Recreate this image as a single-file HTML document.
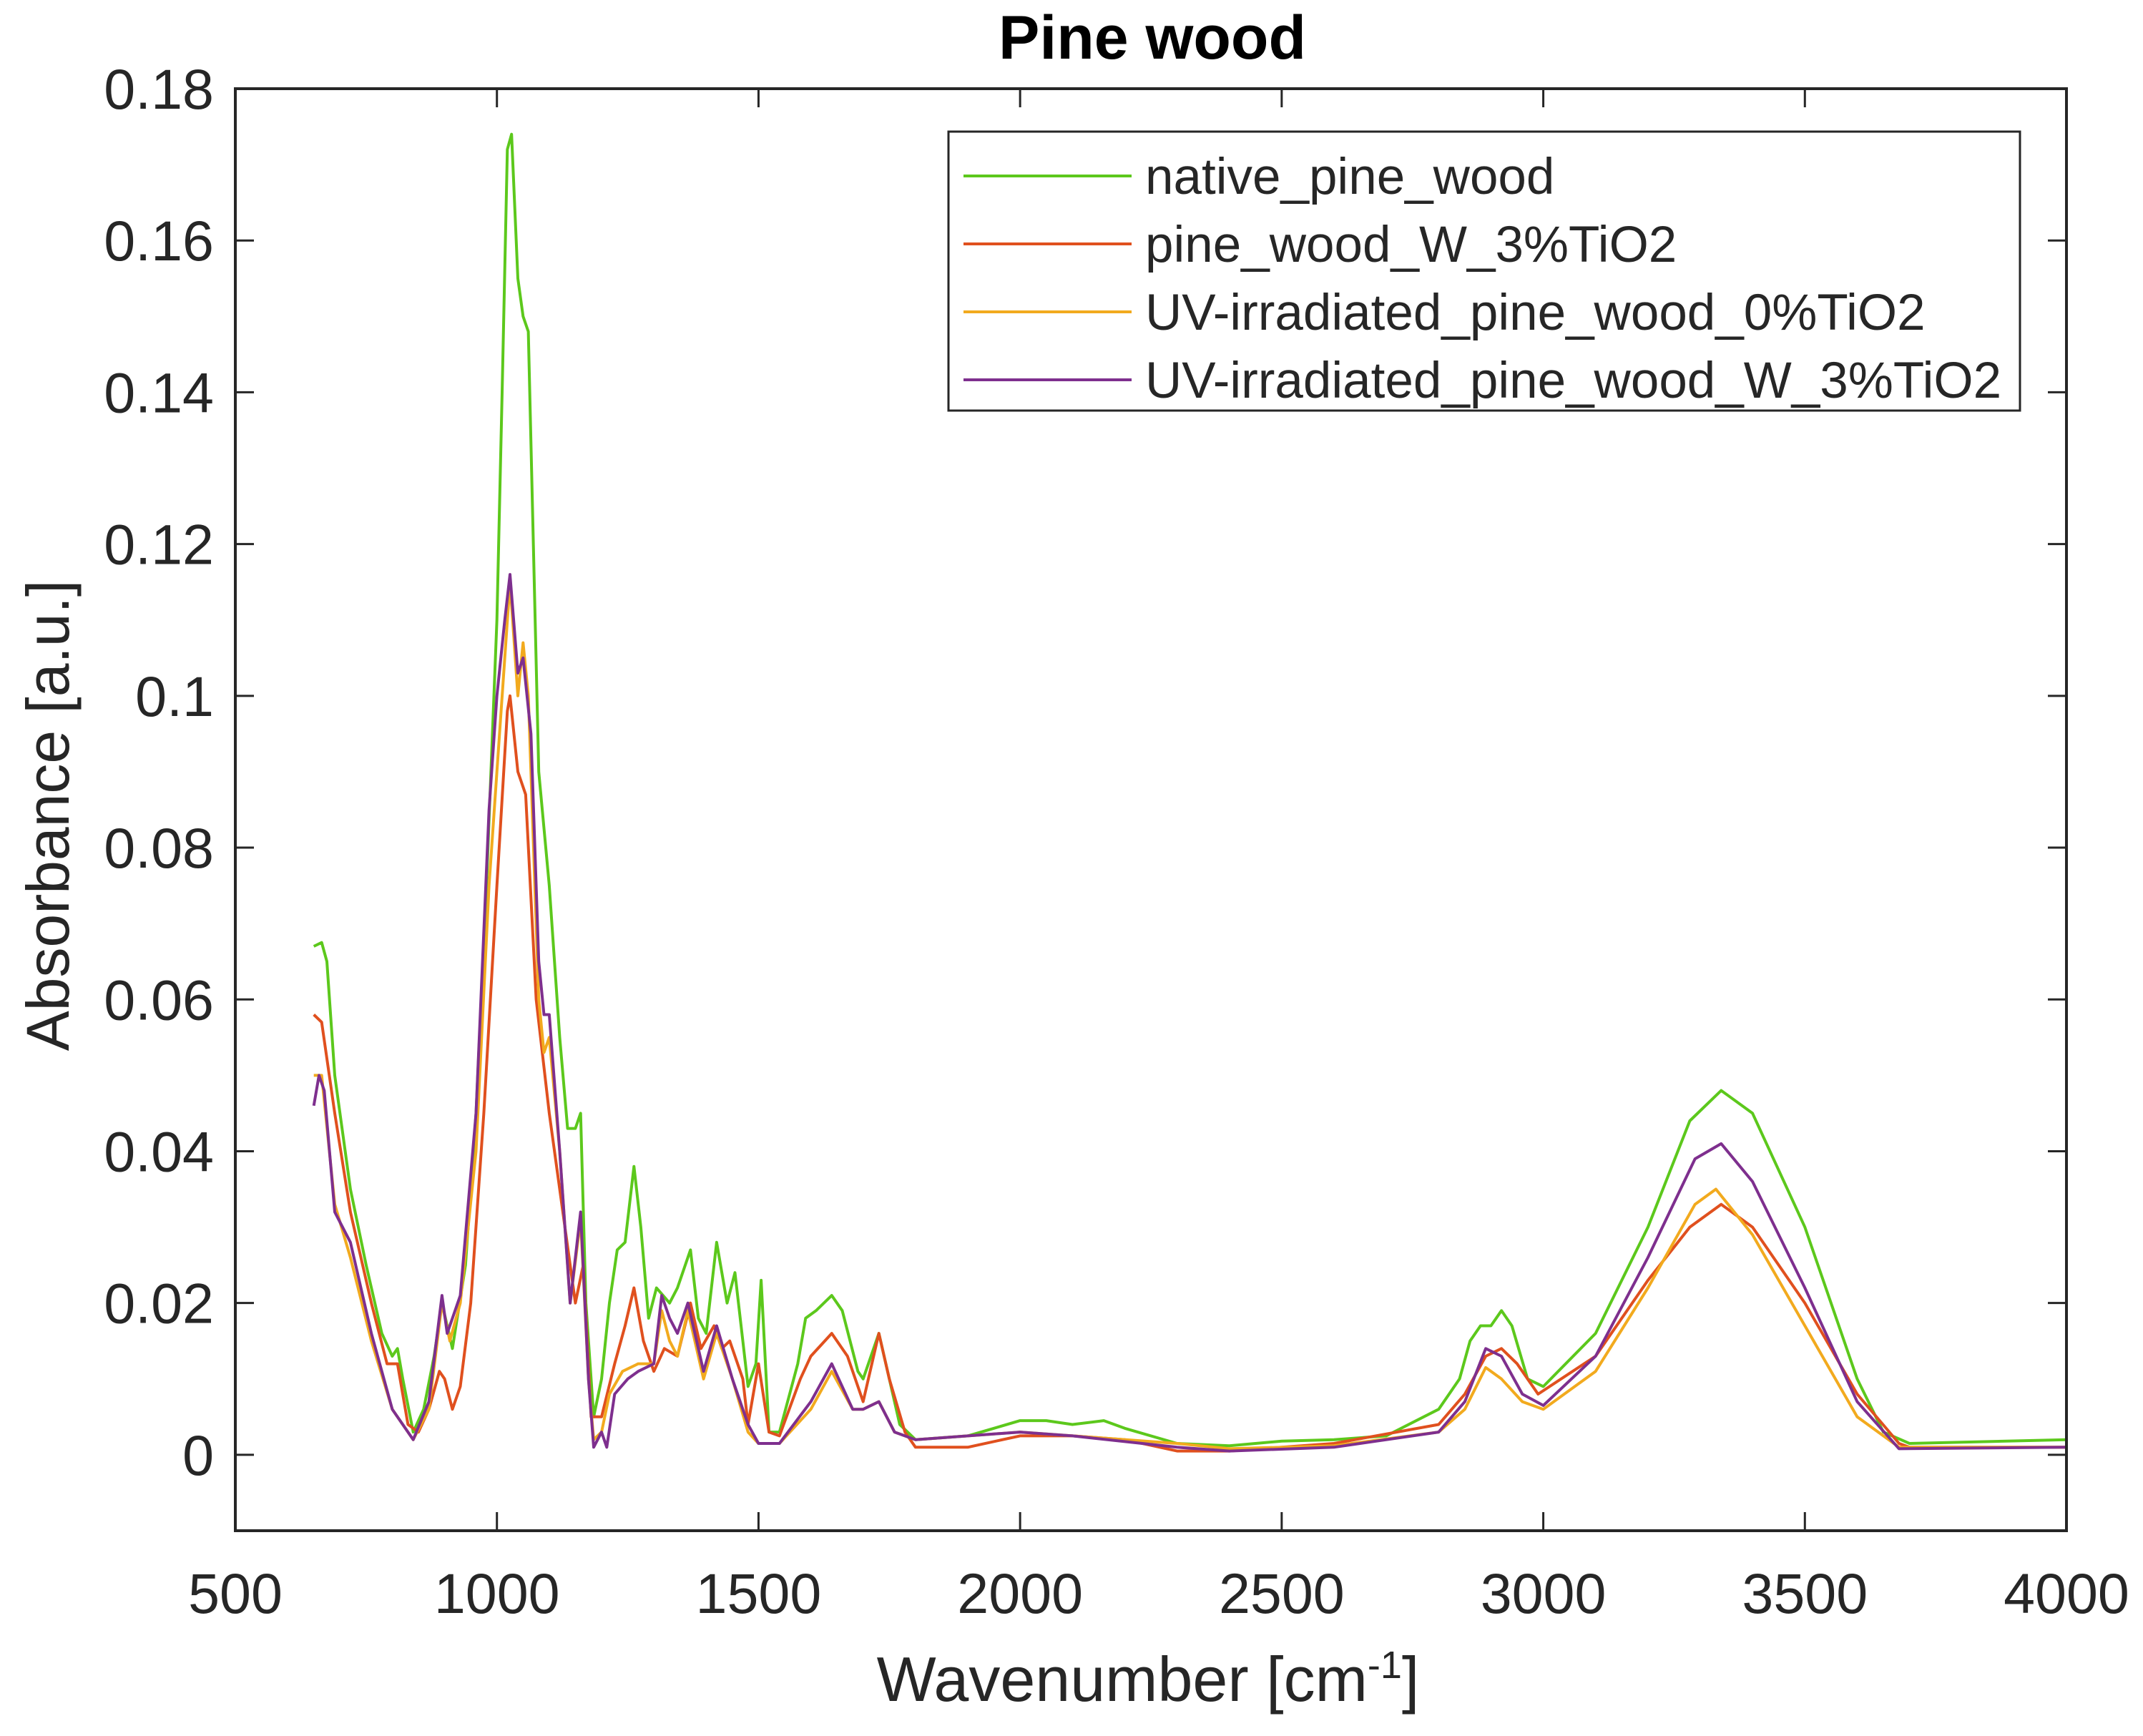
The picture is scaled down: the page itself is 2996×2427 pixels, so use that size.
<!DOCTYPE html>
<html><head><meta charset="utf-8"><style>
html,body{margin:0;padding:0;background:#fff;}
svg text{font-family:"Liberation Sans",sans-serif;fill:#262626;}
</style></head><body>
<svg id="chart" xmlns="http://www.w3.org/2000/svg" width="2996" height="2422" viewBox="0 0 2996 2422">
<rect width="2996" height="2422" fill="#fff"/>
<text x="1611" y="82" font-size="86" font-weight="bold" text-anchor="middle" style="fill:#000">Pine wood</text>
<g id="plot"></g>
<text transform="translate(96,1140) rotate(-90)" font-size="84" text-anchor="middle">Absorbance [a.u.]</text>
<text x="1605" y="2378" font-size="88" text-anchor="middle">Wavenumber [cm<tspan font-size="54" dy="-32">-1</tspan><tspan dy="32">]</tspan></text>
</svg>
<script>
const xTicks=[500,1000,1500,2000,2500,3000,3500,4000];
const yTicks=[0,0.02,0.04,0.06,0.08,0.1,0.12,0.14,0.16,0.18];
const yTickLabels=["0","0.02","0.04","0.06","0.08","0.1","0.12","0.14","0.16","0.18"];
const seriesNames=["native_pine_wood","pine_wood_W_3%TiO2","UV-irradiated_pine_wood_0%TiO2","UV-irradiated_pine_wood_W_3%TiO2"];
const seriesColors=["#5cc81c","#e0501e","#f2aa1e","#7e2f8e"];
const nativeX=[650,665,675,690,720,750,780,800,810,820,840,860,880,895,905,915,940,960,980,1000,1010,1020,1028,1040,1050,1060,1080,1100,1120,1135,1150,1160,1170,1185,1200,1215,1230,1245,1262,1275,1290,1305,1330,1345,1370,1385,1400,1420,1440,1455,1470,1480,1495,1505,1520,1540,1575,1590,1610,1640,1660,1690,1700,1730,1750,1770,1800,1900,1950,2000,2050,2100,2160,2200,2300,2400,2500,2600,2700,2800,2840,2860,2880,2900,2920,2940,2970,3000,3100,3200,3280,3340,3400,3500,3600,3650,3700,4000];
const nativeY=[0.067,0.0675,0.065,0.05,0.035,0.025,0.016,0.013,0.014,0.01,0.003,0.006,0.013,0.02,0.017,0.014,0.025,0.045,0.075,0.11,0.14,0.172,0.174,0.155,0.15,0.148,0.09,0.075,0.055,0.043,0.043,0.045,0.02,0.005,0.01,0.02,0.027,0.028,0.038,0.03,0.018,0.022,0.02,0.022,0.027,0.018,0.016,0.028,0.02,0.024,0.015,0.009,0.012,0.023,0.003,0.003,0.012,0.018,0.019,0.021,0.019,0.011,0.01,0.016,0.01,0.004,0.002,0.0025,0.0035,0.0045,0.0045,0.004,0.0045,0.0035,0.0015,0.0012,0.0018,0.002,0.0025,0.006,0.01,0.015,0.017,0.017,0.019,0.017,0.01,0.009,0.016,0.03,0.044,0.048,0.045,0.03,0.01,0.003,0.0015,0.002];
const tio2X=[650,665,690,720,760,790,810,830,850,870,890,900,915,930,950,975,1000,1020,1025,1040,1055,1075,1100,1130,1150,1165,1180,1200,1225,1245,1262,1280,1300,1320,1345,1370,1390,1415,1430,1445,1470,1480,1500,1520,1540,1580,1600,1640,1670,1700,1730,1750,1780,1800,1900,2000,2100,2200,2300,2400,2600,2800,2850,2890,2920,2950,2990,3100,3200,3280,3340,3400,3500,3600,3680,3700,4000];
const tio2Y=[0.058,0.057,0.045,0.032,0.02,0.012,0.012,0.004,0.003,0.006,0.011,0.01,0.006,0.009,0.02,0.045,0.075,0.098,0.1,0.09,0.087,0.06,0.045,0.03,0.02,0.025,0.005,0.005,0.012,0.017,0.022,0.015,0.011,0.014,0.013,0.02,0.014,0.017,0.014,0.015,0.01,0.004,0.012,0.003,0.0025,0.01,0.013,0.016,0.013,0.007,0.016,0.01,0.003,0.001,0.001,0.0025,0.0025,0.002,0.0005,0.0005,0.0015,0.004,0.008,0.013,0.014,0.012,0.008,0.013,0.023,0.03,0.033,0.03,0.02,0.008,0.0015,0.001,0.001];
const uv0X=[650,665,690,720,760,800,840,870,895,910,930,960,985,1000,1015,1025,1040,1050,1060,1080,1090,1100,1120,1140,1160,1175,1185,1200,1215,1240,1270,1300,1315,1330,1345,1365,1395,1420,1450,1480,1500,1540,1600,1640,1680,1700,1730,1760,1800,2000,2100,2300,2400,2600,2800,2850,2890,2920,2960,3000,3100,3200,3290,3330,3400,3500,3600,3680,4000];
const uv0Y=[0.05,0.05,0.033,0.026,0.015,0.006,0.002,0.006,0.02,0.015,0.02,0.04,0.075,0.09,0.105,0.115,0.1,0.107,0.1,0.06,0.053,0.055,0.04,0.02,0.031,0.01,0.002,0.003,0.008,0.011,0.012,0.012,0.019,0.015,0.013,0.019,0.01,0.016,0.01,0.003,0.0015,0.0015,0.006,0.011,0.006,0.006,0.007,0.003,0.002,0.003,0.0025,0.0015,0.0008,0.0012,0.003,0.006,0.0115,0.01,0.007,0.006,0.011,0.022,0.033,0.035,0.029,0.017,0.005,0.001,0.001];
const uv3X=[650,660,670,690,720,760,800,840,870,895,905,930,960,985,1000,1015,1025,1040,1050,1065,1080,1090,1100,1120,1140,1160,1175,1185,1200,1210,1225,1250,1270,1300,1315,1330,1345,1365,1395,1420,1450,1480,1500,1540,1600,1640,1680,1700,1730,1760,1800,2000,2100,2300,2400,2600,2800,2850,2890,2920,2960,3000,3100,3200,3290,3340,3400,3500,3600,3680,4000];
const uv3Y=[0.046,0.05,0.048,0.032,0.028,0.016,0.006,0.002,0.007,0.021,0.016,0.021,0.045,0.085,0.1,0.11,0.116,0.103,0.105,0.095,0.065,0.058,0.058,0.04,0.02,0.032,0.01,0.001,0.003,0.001,0.008,0.01,0.011,0.012,0.021,0.018,0.016,0.02,0.011,0.017,0.01,0.004,0.0015,0.0015,0.007,0.012,0.006,0.006,0.007,0.003,0.002,0.003,0.0025,0.001,0.0005,0.001,0.003,0.007,0.014,0.013,0.008,0.0065,0.013,0.026,0.039,0.041,0.036,0.022,0.007,0.0008,0.001];
const seriesX=[nativeX,tio2X,uv0X,uv3X];
const seriesY=[nativeY,tio2Y,uv0Y,uv3Y];

const L=329,R=2889,T=124,B=2140,xmin=500,xmax=4000,ymin=-0.01,ymax=0.18;
const sx=v=>L+(v-xmin)/(xmax-xmin)*(R-L);
const sy=v=>B-(v-ymin)/(ymax-ymin)*(B-T);
const NS="http://www.w3.org/2000/svg";
const g=document.getElementById('plot');
function mk(tag,attrs){const e=document.createElementNS(NS,tag);for(const k in attrs)e.setAttribute(k,attrs[k]);g.appendChild(e);return e;}
for(let s=0;s<4;s++){
  const d=seriesX[s].map((x,i)=>(i?'L':'M')+sx(x).toFixed(1)+','+sy(seriesY[s][i]).toFixed(1)).join(' ');
  const p=mk('path',{d:d,fill:'none',stroke:seriesColors[s],'stroke-width':4,'stroke-linejoin':'round'});
  
  
}
const box=mk('rect',{x:L,y:T,width:R-L,height:B-T,fill:'none',stroke:'#262626','stroke-width':4});


xTicks.forEach(v=>{
  const x=sx(v);
  const t1=mk('line',{x1:x,y1:B,x2:x,y2:B-26,stroke:'#262626','stroke-width':3});
  
  
  const t2=mk('line',{x1:x,y1:T,x2:x,y2:T+26,stroke:'#262626','stroke-width':3});
  
  
  const tx=mk('text',{x:x,y:B+115,'font-size':79,'text-anchor':'middle'});
  tx.textContent=v;
  
  
});
yTicks.forEach((v,i)=>{
  const y=sy(v);
  const t1=mk('line',{x1:L,y1:y,x2:L+26,y2:y,stroke:'#262626','stroke-width':3});
  
  
  const t2=mk('line',{x1:R,y1:y,x2:R-26,y2:y,stroke:'#262626','stroke-width':3});
  
  
  const tx=mk('text',{x:L-30,y:y+28,'font-size':79,'text-anchor':'end'});
  tx.textContent=yTickLabels[i];
  
  
});
const lg=mk('rect',{x:1326,y:184,width:1498,height:390,fill:'#fff',stroke:'#262626','stroke-width':3});


seriesNames.forEach((n,i)=>{
  const y=246+i*95;
  const ln=mk('line',{x1:1347,y1:y,x2:1582,y2:y,stroke:seriesColors[i],'stroke-width':4});
  
  
  const tx=mk('text',{x:1601,y:y+25,'font-size':71});
  tx.textContent=n;
  
  
});
</script>
</body></html>
